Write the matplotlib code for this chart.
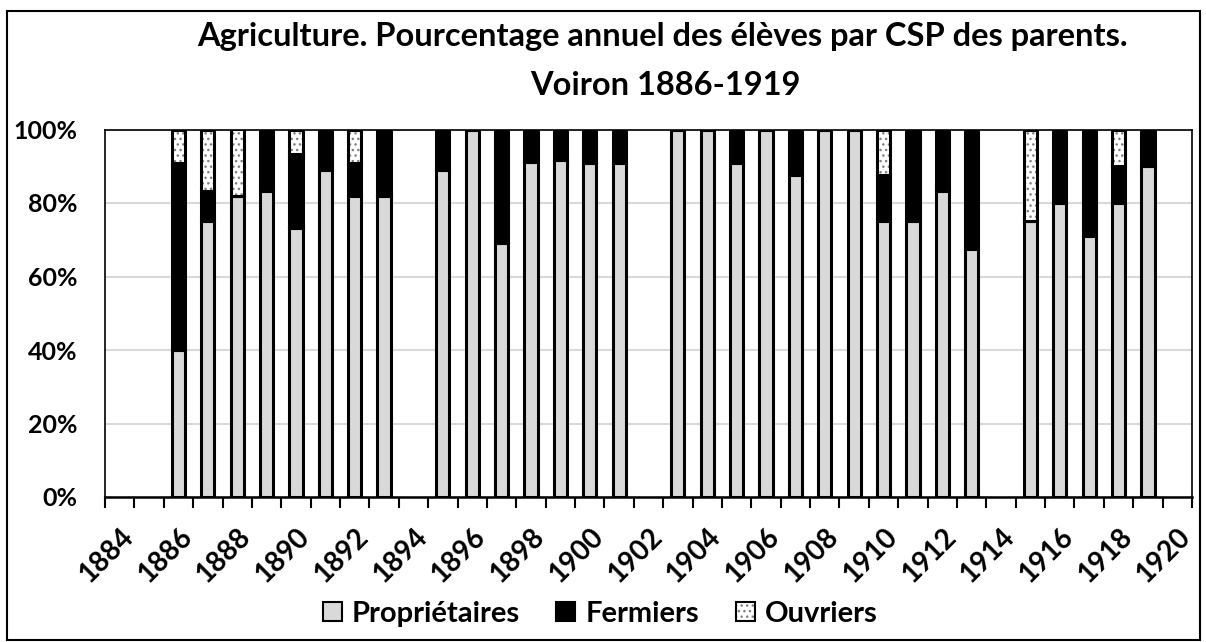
import numpy as np
import matplotlib
matplotlib.use("Agg")
import matplotlib.pyplot as plt
from matplotlib.patches import Patch, Rectangle
from matplotlib.legend_handler import HandlerTuple

plt.rcParams['font.family'] = ['Lato', 'DejaVu Sans']
plt.rcParams['font.weight'] = 'bold'

years = [1886, 1887, 1888, 1889, 1890, 1891, 1892, 1893,
         1895, 1896, 1897, 1898, 1899, 1900, 1901,
         1903, 1904, 1905, 1906, 1907, 1908, 1909, 1910, 1911, 1912, 1913,
         1915, 1916, 1917, 1918, 1919]
proprietaires = [40, 75, 81.8, 83.3, 73.3, 88.9, 81.8, 81.8,
                 89, 100, 69.2, 91.2, 91.7, 90.9, 90.9,
                 100, 100, 90.9, 100, 87.5, 100, 100, 75, 75, 83.3, 67.5,
                 75, 80, 71, 80, 90]
fermiers = [51, 8.3, 0, 16.7, 20, 11.1, 9.1, 18.2,
            11, 0, 30.8, 8.8, 8.3, 9.1, 9.1,
            0, 0, 9.1, 0, 12.5, 0, 0, 12.5, 25, 16.7, 32.5,
            0, 20, 29, 10, 10]
ouvriers = [9, 16.7, 18.2, 0, 6.7, 0, 9.1, 0,
            0, 0, 0, 0, 0, 0, 0,
            0, 0, 0, 0, 0, 0, 0, 12.5, 0, 0, 0,
            25, 0, 0, 10, 0]
series_names = ['Propriétaires', 'Fermiers', 'Ouvriers']
title_line1 = "Agriculture. Pourcentage annuel des élèves par CSP des parents."
title_line2 = "Voiron 1886-1919"

x = np.array(years, dtype=float)
p = np.array(proprietaires)
f = np.array(fermiers)
o = np.array(ouvriers)

W, H = 1206, 642
fig = plt.figure(figsize=(W / 100, H / 100), dpi=100)
ax = fig.add_axes([105 / W, 1 - 497 / H, (1192 - 105) / W, (497 - 129.5) / H])

w = 0.45
lw = 2.2
ax.bar(x, p, width=w, color='#D9D9D9', edgecolor='black', linewidth=lw, zorder=3)
ax.bar(x, f, width=w, bottom=p, color='black', edgecolor='black', linewidth=lw, zorder=3)
mask = o > 0
ax.bar(x[mask], o[mask], width=w, bottom=(p + f)[mask], color='white', edgecolor='#808080',
       hatch='...', linewidth=0, zorder=3)
ax.bar(x[mask], o[mask], width=w, bottom=(p + f)[mask], facecolor='none', edgecolor='black',
       linewidth=lw, zorder=4)

ax.set_xlim(1883.5, 1920.5)
ax.set_ylim(0, 100)
ax.set_yticks(np.arange(0, 101, 20))
ax.set_yticklabels([f"{v}%" for v in range(0, 101, 20)], fontsize=18, fontweight='bold')
ax.tick_params(axis='y', length=0, pad=20)
ax.yaxis.grid(True, color='#D9D9D9', linewidth=1.5, zorder=0)
ax.set_axisbelow(True)

ax.set_xticks(np.arange(1883.5, 1921, 1))
ax.set_xticklabels([])
ax.tick_params(axis='x', which='major', length=8, width=1.5, direction='out', color='black')
ax.set_xticks(np.arange(1884, 1921, 2), minor=True)
ax.set_xticklabels([str(v) for v in range(1884, 1921, 2)], minor=True, rotation=45,
                   ha='right', rotation_mode='anchor', fontsize=20, fontweight='bold')
ax.tick_params(axis='x', which='minor', length=0, pad=19)

for s in ['left', 'right', 'top']:
    ax.spines[s].set_linewidth(1.2)
    ax.spines[s].set_color('black')
ax.spines['bottom'].set_linewidth(1.8)

fig.text(662 / W, 1 - 46 / H, title_line1, fontsize=23.5, fontweight='bold',
         ha='center', va='baseline')
fig.text(665 / W, 1 - 95 / H, title_line2, fontsize=23.5, fontweight='bold',
         ha='center', va='baseline')

h_prop = Patch(facecolor='#D9D9D9', edgecolor='black', linewidth=1.5)
h_ferm = Patch(facecolor='black', edgecolor='black', linewidth=1.5)
h_ouv = (Patch(facecolor='white', edgecolor='#808080', hatch='...', linewidth=0),
         Patch(facecolor='none', edgecolor='black', linewidth=1.5))
fig.legend([h_prop, h_ferm, h_ouv], series_names, loc='center',
           bbox_to_anchor=(600 / W, 1 - 614 / H), ncol=3,
           handler_map={tuple: HandlerTuple(ndivide=1, pad=0)},
           frameon=False, prop={'size': 21, 'weight': 'bold'}, handlelength=0.65,
           handleheight=0.65, handletextpad=0.35, columnspacing=1.25, borderaxespad=0,
           borderpad=0)

fig.patches.append(Rectangle((7 / W, 1 - 640 / H), (1200 - 7) / W, (640 - 11) / H,
                             transform=fig.transFigure, fill=False, edgecolor='black',
                             linewidth=1.5))

fig.savefig('out.png', dpi=100)
